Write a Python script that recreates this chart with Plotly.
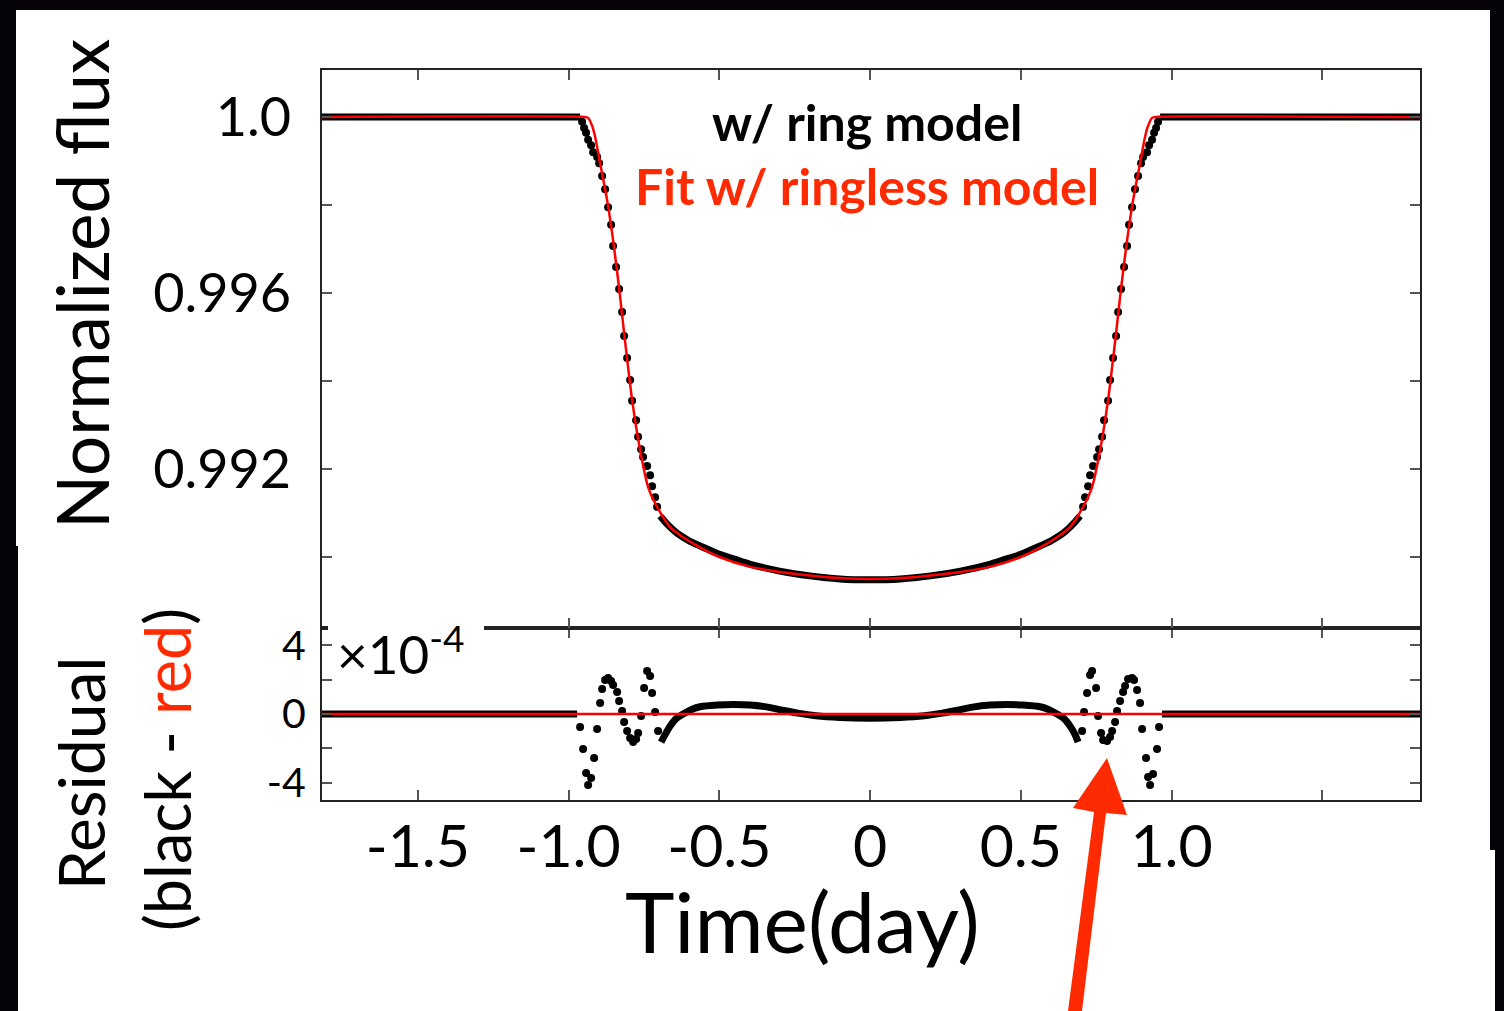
import plotly.graph_objects as go

# ---------------- data ----------------
# red: fit with ringless model (top panel)
fit_time = [-1.818, -0.9486, -0.9353, -0.9221, -0.9121, -0.8955, -0.8723, -0.8524, -0.8325, -0.8159,
            -0.7894, -0.7629, -0.7363, -0.7065, -0.6633, -0.6202, -0.56, -0.50, -0.40, -0.30, -0.20, -0.10,
            0.0, 0.10, 0.20, 0.30, 0.40, 0.50, 0.56, 0.6202, 0.6633, 0.7065, 0.7363, 0.7629, 0.7894, 0.8159,
            0.8325, 0.8524, 0.8723, 0.8955, 0.9121, 0.9221, 0.9353, 0.9486, 1.824]
fit_flux = [1.0, 1.0, 0.99998, 0.99980, 0.99955, 0.99895, 0.99811, 0.99720, 0.99611, 0.99509,
            0.99357, 0.99243, 0.99159, 0.99114, 0.99068, 0.99045, 0.99020, 0.99000, 0.98978, 0.98966, 0.98958, 0.98952,
            0.98950, 0.98952, 0.98958, 0.98966, 0.98978, 0.99000, 0.99020, 0.99045, 0.99068, 0.99114, 0.99159, 0.99243, 0.99357, 0.99509,
            0.99611, 0.99720, 0.99811, 0.99895, 0.99955, 0.99980, 0.99998, 1.0, 1.0]

# black: ring model, densely sampled parts (drawn as a thick band)
ring_line_time = [-1.818, -0.962, None, -0.6965, -0.68, -0.66, -0.64, -0.62, -0.59, -0.56, -0.50, -0.45, -0.40,
                  -0.30, -0.20, -0.10, 0.0, 0.10, 0.20, 0.30, 0.40, 0.45, 0.50, 0.56, 0.59, 0.62, 0.64, 0.66,
                  0.68, 0.6965, None, 0.962, 1.824]
ring_line_flux = [1.0, 1.0, None, 0.99093, 0.99080, 0.99066, 0.99054, 0.99045, 0.99033, 0.99024, 0.99006, 0.98995, 0.98984,
                  0.98968, 0.98957, 0.98950, 0.98948, 0.98950, 0.98957, 0.98968, 0.98984, 0.98995, 0.99006, 0.99024, 0.99033, 0.99045, 0.99054, 0.99066,
                  0.99080, 0.99093, None, 1.0, 1.0]

# black: ring model, individual samples during ingress / egress
ring_dot_time = [-0.9552, -0.9486, -0.9420, -0.9353, -0.9254, -0.9187, -0.9055, -0.8988, -0.8889, -0.8789,
                 -0.8690, -0.8590, -0.8524, -0.8425, -0.8325, -0.8226, -0.8159, -0.8060, -0.7960, -0.7894,
                 -0.7761, -0.7695, -0.7595, -0.7529, -0.7396, -0.7297, -0.7231, -0.7131, -0.7065,
                 0.7065, 0.7131, 0.7231, 0.7297, 0.7396, 0.7529, 0.7595, 0.7695, 0.7761, 0.7894,
                 0.7960, 0.8060, 0.8159, 0.8226, 0.8325, 0.8425, 0.8524, 0.8590, 0.8690, 0.8789,
                 0.8889, 0.8988, 0.9055, 0.9187, 0.9254, 0.9353, 0.9420, 0.9486, 0.9552]
ring_dot_flux = [0.99989, 0.99975, 0.99964, 0.99948, 0.99936, 0.99920, 0.99909, 0.99895, 0.99866, 0.99836,
                 0.99795, 0.99755, 0.99707, 0.99659, 0.99609, 0.99557, 0.99502, 0.99452, 0.99402, 0.99355,
                 0.99311, 0.99273, 0.99245, 0.99227, 0.99207, 0.99186, 0.99161, 0.99136, 0.99114,
                 0.99114, 0.99136, 0.99161, 0.99186, 0.99207, 0.99227, 0.99245, 0.99273, 0.99311, 0.99355,
                 0.99402, 0.99452, 0.99502, 0.99557, 0.99609, 0.99659, 0.99707, 0.99755, 0.99795, 0.99836,
                 0.99866, 0.99895, 0.99909, 0.99920, 0.99936, 0.99948, 0.99964, 0.99975, 0.99989]

# residual (black - red), units of 1e-4 : dense parts
res_line_time = [-1.818, -0.9718, None, -0.6932, -0.68, -0.665, -0.645, -0.62, -0.59, -0.564, -0.507, -0.454,
                 -0.398, -0.34, -0.29, -0.24, -0.18, -0.10, 0.0, 0.10, 0.18, 0.24, 0.29, 0.34, 0.398, 0.454,
                 0.507, 0.564, 0.59, 0.62, 0.645, 0.665, 0.68, 0.6899, None, 0.9685, 1.824]
res_line_value = [0, 0, None, -1.63, -1.2, -0.75, -0.3, 0.0, 0.28, 0.42, 0.52, 0.55,
                  0.52, 0.40, 0.22, 0.05, -0.1, -0.2, -0.24, -0.2, -0.1, 0.05, 0.22, 0.40, 0.52, 0.55,
                  0.52, 0.42, 0.28, 0.0, -0.3, -0.75, -1.2, -1.63, None, 0, 0]

# residual individual samples
res_dot_time = [-0.9619, -0.9519, -0.9420, -0.9353, -0.9254, -0.9154, -0.9055, -0.8955, -0.8889, -0.8789,
                -0.8690, -0.8590, -0.8524, -0.8391, -0.8325, -0.8226, -0.8159, -0.8060, -0.7960, -0.7861,
                -0.7761, -0.7695, -0.7595, -0.7496, -0.7396, -0.7297, -0.7231, -0.7131, -0.7032,
                0.7032, 0.7098, 0.7197, 0.7297, 0.7363, 0.7496, 0.7562, 0.7662, 0.7728, 0.7861,
                0.7960, 0.8027, 0.8126, 0.8192, 0.8292, 0.8391, 0.8458, 0.8557, 0.8690, 0.8756,
                0.8856, 0.8955, 0.9022, 0.9154, 0.9221, 0.9287, 0.9386, 0.9519, 0.9585]
res_dot_value = [-0.76, -2.03, -3.43, -4.13, -3.72, -2.56, -0.87, 0.64, 1.45, 1.98,
                 2.09, 1.92, 1.69, 1.28, 0.76, 0.17, -0.47, -0.99, -1.40, -1.63,
                 -1.45, -1.10, -0.12, 1.51, 2.50, 2.21, 1.22, 0.12, -0.99,
                 -0.99, 0.12, 1.22, 2.27, 2.50, 1.51, -0.12, -1.10, -1.51, -1.57,
                 -1.34, -0.99, -0.47, 0.17, 0.76, 1.28, 1.63, 2.03, 2.09, 1.98,
                 1.40, 0.64, -0.87, -2.56, -3.66, -4.13, -3.49, -2.03, -0.76]

fit_res_time = [-1.818, 1.824]
fit_res_value = [0.0, 0.0]

x_tickvals = [-1.5, -1.0, -0.5, 0.0, 0.5, 1.0, 1.5]
x_ticktext = ["-1.5", "-1.0", "-0.5", "0", "0.5", "1.0", " "]
flux_tickvals = [0.990, 0.992, 0.994, 0.996, 0.998, 1.000]
flux_ticktext = [" ", "0.992", " ", "0.996", " ", "1.0"]
res_tickvals = [-4, -2, 0, 2, 4]
res_ticktext = ["-4", " ", "0", " ", "4"]

# ---------------- layout helpers ----------------
W, H = 1504, 1011
L, R, T, B = 322, 1420, 70, 800
def px(x):
    return (x - L) / (R - L)
def py(y):
    return (B - y) / (B - T)

RED = "#ff0000"
ORANGE_RED = "#ff2a00"
FONT = "Lato"

fig = go.Figure()
# top panel
fig.add_trace(go.Scatter(x=ring_line_time, y=ring_line_flux, mode="lines", xaxis="x2", yaxis="y2",
                         line=dict(color="black", width=7, shape="spline", smoothing=0.8), connectgaps=False))
fig.add_trace(go.Scatter(x=ring_dot_time, y=ring_dot_flux, mode="markers", xaxis="x2", yaxis="y2",
                         marker=dict(color="black", size=8)))
fig.add_trace(go.Scatter(x=fit_time, y=fit_flux, mode="lines", xaxis="x2", yaxis="y2",
                         line=dict(color=RED, width=2.5, shape="spline", smoothing=0.6)))
# residual panel
fig.add_trace(go.Scatter(x=res_line_time, y=res_line_value, mode="lines", xaxis="x", yaxis="y",
                         line=dict(color="black", width=7, shape="spline", smoothing=0.8), connectgaps=False))
fig.add_trace(go.Scatter(x=res_dot_time, y=res_dot_value, mode="markers", xaxis="x", yaxis="y",
                         marker=dict(color="black", size=8)))
fig.add_trace(go.Scatter(x=fit_res_time, y=fit_res_value, mode="lines", xaxis="x", yaxis="y",
                         line=dict(color=RED, width=2.5)))

split = py(628)
axis_common = dict(showline=True, linecolor="#222", linewidth=2, mirror="ticks", ticks="inside",
                   ticklen=10, tickwidth=2, tickcolor="#555", showgrid=False, zeroline=False)

fig.update_layout(
    width=W, height=H, margin=dict(l=L, r=W - R, t=T, b=H - B),
    paper_bgcolor="white", plot_bgcolor="white", showlegend=False,
    font=dict(family=FONT, color="black"),
    xaxis=dict(**axis_common, range=[-1.818, 1.824], tickvals=x_tickvals, ticktext=x_ticktext,
               tickfont=dict(size=59, family=FONT), ticklabelstandoff=-6, anchor="y", domain=[0, 1]),
    yaxis=dict(**axis_common, range=[-5, 5], tickvals=res_tickvals, ticktext=res_ticktext,
               tickfont=dict(size=41, family=FONT), ticklabelstandoff=6, domain=[0, split], anchor="x"),
    xaxis2=dict(**axis_common, range=[-1.818, 1.824], tickvals=x_tickvals, showticklabels=False,
                anchor="y2", matches="x", domain=[0, 1]),
    yaxis2=dict(**axis_common, range=[0.988386, 1.001068], tickvals=flux_tickvals, ticktext=flux_ticktext,
                tickfont=dict(size=54, family=FONT), ticklabelstandoff=18, domain=[split, 1], anchor="x2"),
)

ann = []
ann.append(dict(text="Normalized flux", x=px(81), y=py(284), textangle=-90, font=dict(size=71, family=FONT)))
ann.append(dict(text="Residual", x=px(80), y=py(774), textangle=-90, font=dict(size=64, family=FONT)))
ann.append(dict(text="(black - <span style='color:%s'>red</span>)" % ORANGE_RED, x=px(166), y=py(770),
                textangle=-90, font=dict(size=63, family=FONT)))
ann.append(dict(text="w/ ring model", x=px(867), y=py(122), font=dict(size=50, family=FONT, weight="bold")))
ann.append(dict(text="Fit w/ ringless model", x=px(867), y=py(186),
                font=dict(size=50, family=FONT, color=ORANGE_RED, weight="bold")))
ann.append(dict(text="Time(day)", x=px(802), y=py(920), font=dict(size=84, family=FONT)))
ann.append(dict(text="×10<sup>-4</sup>", x=px(335), y=py(650), xanchor="left", font=dict(size=53, family=FONT)))
for a in ann:
    a.setdefault("xanchor", "center")
    a.update(xref="paper", yref="paper", yanchor="middle", showarrow=False)
fig.update_layout(annotations=ann)

shapes = []
# white patch behind the x10^-4 label (the panel border is hidden there)
shapes.append(dict(type="rect", xref="paper", yref="paper", x0=px(328), x1=px(484), y0=py(640), y1=py(618),
                   fillcolor="white", line=dict(width=0), layer="above"))
# red arrow
pts = [(1068, 1011), (1094, 812), (1073, 808), (1107, 758), (1127, 815), (1106, 813), (1082, 1011)]
path = "M " + " L ".join("%.5f,%.5f" % (px(x), py(y)) for x, y in pts) + " Z"
shapes.append(dict(type="path", path=path, xref="paper", yref="paper", fillcolor=ORANGE_RED,
                   line=dict(width=0), layer="above"))
# black slide borders
def rect(x0, y0, x1, y1):
    return dict(type="rect", xref="paper", yref="paper", x0=px(x0), x1=px(x1), y0=py(y0), y1=py(y1),
                fillcolor="#050308", line=dict(width=0), layer="above")
shapes.append(rect(0, 0, W, 10))
shapes.append(rect(0, 0, 16, 546))
shapes.append(rect(0, 546, 18, H))
shapes.append(rect(1490, 0, W, 850))
shapes.append(rect(1495, 850, W, H))
fig.update_layout(shapes=shapes)

fig.write_html("out.html")
